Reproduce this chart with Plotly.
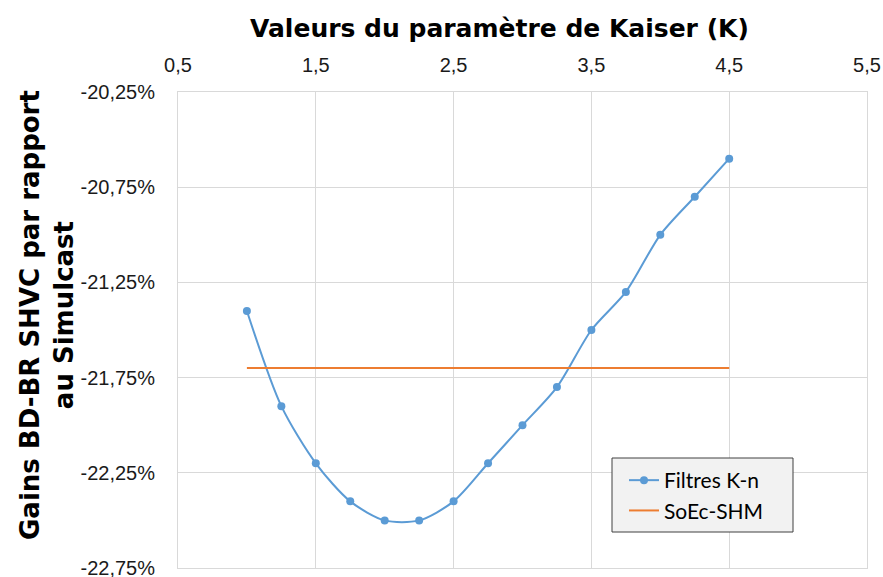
import plotly.graph_objects as go

# Kaiser parameter values and BD-BR gains (in %)
k_values = [1.0, 1.25, 1.5, 1.75, 2.0, 2.25, 2.5, 2.75, 3.0, 3.25, 3.5, 3.75, 4.0, 4.25, 4.5]
gains_filtres = [-21.40, -21.90, -22.20, -22.40, -22.50, -22.50, -22.40, -22.20,
                 -22.00, -21.80, -21.50, -21.30, -21.00, -20.80, -20.60]
soec_x = [1.0, 4.5]
soec_gain = [-21.70, -21.70]

x_ticks = [0.5, 1.5, 2.5, 3.5, 4.5, 5.5]
x_labels = ["0,5", "1,5", "2,5", "3,5", "4,5", "5,5"]
y_ticks = [-20.25, -20.75, -21.25, -21.75, -22.25, -22.75]
y_labels = ["-20,25%", "-20,75%", "-21,25%", "-21,75%", "-22,25%", "-22,75%"]

BLUE = "#5B9BD5"
ORANGE = "#ED7D31"
GRID = "#D9D9D9"
TEXT = "#1a1a1a"
TICK_FONT = dict(family="Liberation Sans", size=20, color=TEXT)

fig = go.Figure()
fig.add_trace(go.Scatter(
    x=k_values, y=gains_filtres, name="Filtres K-n",
    mode="lines+markers",
    line=dict(color=BLUE, width=2, shape="spline", smoothing=0.8),
    marker=dict(color=BLUE, size=8),
))
fig.add_trace(go.Scatter(
    x=soec_x, y=soec_gain, name="SoEc-SHM",
    mode="lines",
    line=dict(color=ORANGE, width=2),
))

W, H = 883, 577
L, R, T, B = 178, 16, 92, 9
PW, PH = W - L - R, H - T - B


def px(xp):
    return (xp - L) / PW


def py(yp):
    return (H - B - yp) / PH


fig.update_layout(
    width=W, height=H,
    margin=dict(l=L, r=R, t=T, b=B, autoexpand=False),
    paper_bgcolor="white", plot_bgcolor="white",
    font=dict(family="Liberation Sans", size=20, color=TEXT),
    xaxis=dict(
        side="top", range=[0.5, 5.5], automargin=False,
        tickvals=x_ticks, ticktext=x_labels,
        showgrid=True, gridcolor=GRID, gridwidth=1,
        showline=True, linecolor=GRID, mirror=True,
        ticks="outside", ticklen=11, tickcolor="rgba(0,0,0,0)",
        zeroline=False, ticklabeloverflow="allow",
        tickfont=TICK_FONT,
    ),
    yaxis=dict(
        range=[-22.75, -20.25], automargin=False,
        tickvals=y_ticks, ticktext=y_labels,
        showgrid=True, gridcolor=GRID, gridwidth=1,
        showline=True, linecolor=GRID, mirror=True,
        ticks="outside", ticklen=18, tickcolor="rgba(0,0,0,0)",
        zeroline=False, ticklabeloverflow="allow",
        tickfont=TICK_FONT,
    ),
    legend=dict(
        x=px(624), y=py(460),
        xanchor="left", yanchor="top",
        bgcolor="rgba(0,0,0,0)", borderwidth=0,
        font=dict(family="Lato", size=21, color="#000000"),
        tracegroupgap=4,
    ),
    showlegend=True,
)

# legend frame
fig.add_shape(
    type="rect", xref="paper", yref="paper", layer="above",
    x0=px(612), x1=px(793), y0=py(532), y1=py(458),
    fillcolor="#F2F2F2", line=dict(color="#404040", width=1),
)

fig.add_annotation(
    text="<b>Valeurs du paramètre de Kaiser (K)</b>",
    xref="paper", yref="paper",
    x=px(499), y=py(28),
    xanchor="center", yanchor="middle", showarrow=False,
    font=dict(family="DejaVu Sans", size=25, color="#000000"),
)
fig.add_annotation(
    text="<b>Gains BD-BR SHVC par rapport<br>au Simulcast</b>",
    xref="paper", yref="paper",
    x=px(47), y=py(315),
    xanchor="center", yanchor="middle", showarrow=False,
    textangle=-90,
    font=dict(family="DejaVu Sans", size=26, color="#000000"),
)

fig.write_html("out.html")
